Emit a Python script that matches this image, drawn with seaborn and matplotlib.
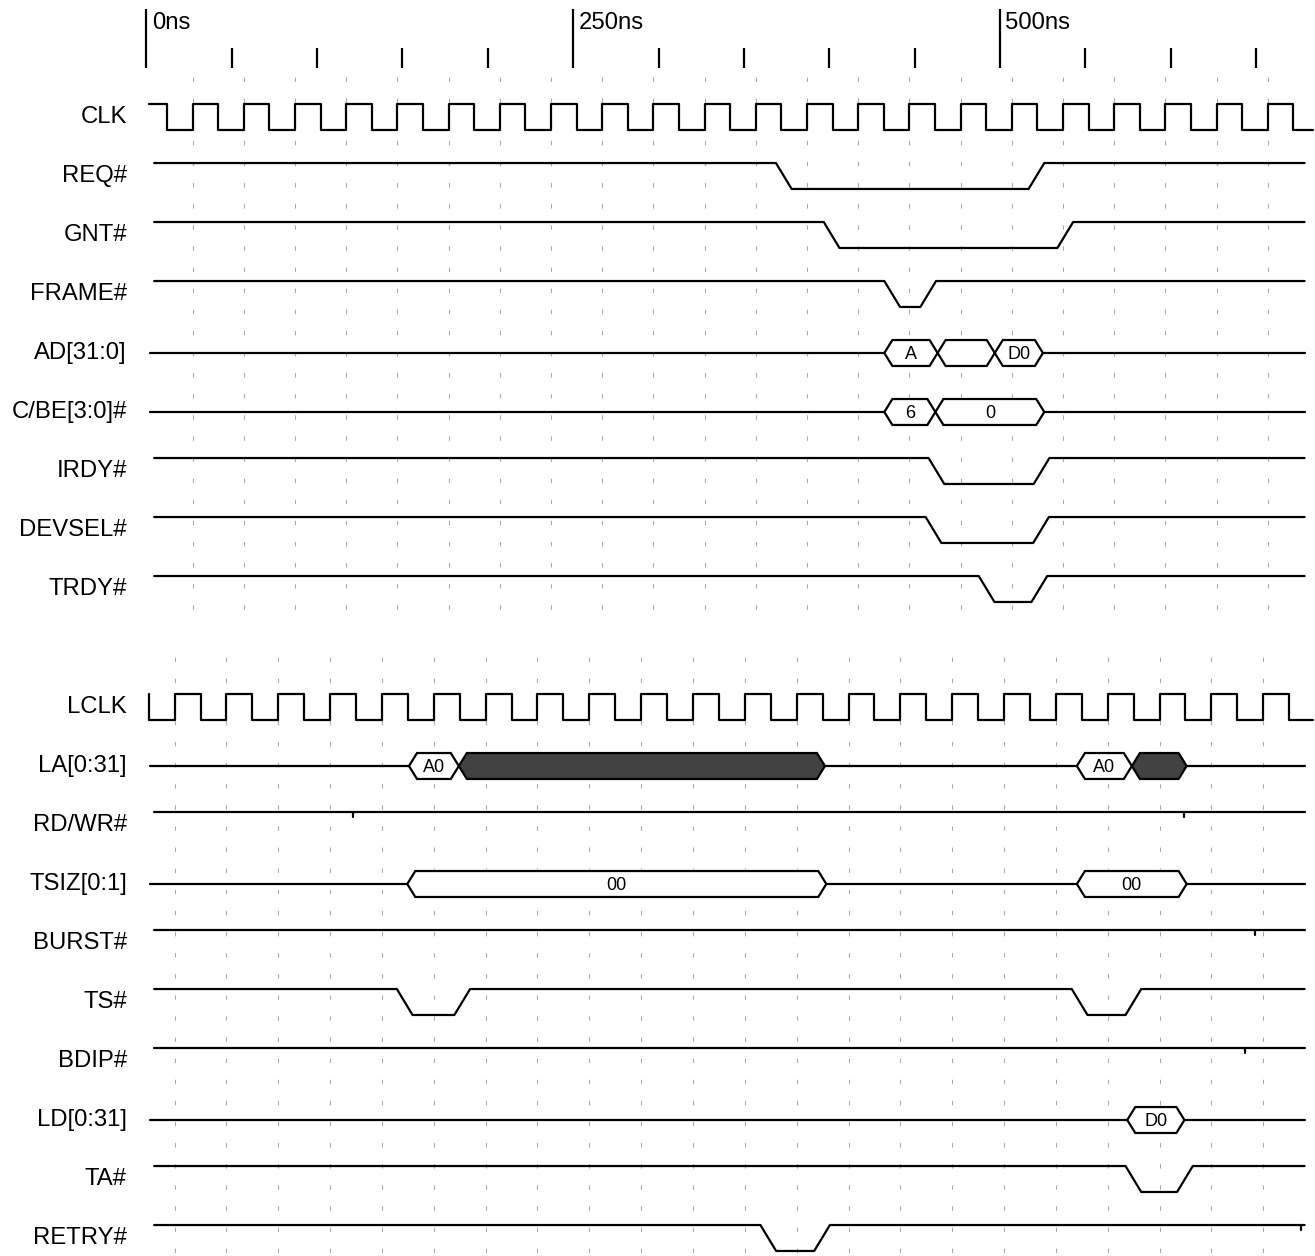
import numpy as np
import pandas as pd
import seaborn as sns
import matplotlib
matplotlib.use('Agg')
import matplotlib.pyplot as plt

# signal rows, top to bottom (row 9 is the gap between the two buses)
pci_names = ['CLK', 'REQ#', 'GNT#', 'FRAME#', 'AD[31:0]', 'C/BE[3:0]#',
             'IRDY#', 'DEVSEL#', 'TRDY#']
local_names = ['LCLK', 'LA[0:31]', 'RD/WR#', 'TSIZ[0:1]', 'BURST#', 'TS#',
               'BDIP#', 'LD[0:31]', 'TA#', 'RETRY#']

# time ruler (ns)
major_ticks = [0, 250, 500]
tick_labels = ['0ns', '250ns', '500ns']
minor_ticks = [50, 100, 150, 200, 300, 350, 400, 450, 550, 600, 650]

# clocks: first falling edge, first rising edge, period (ns)
clk_fall0, clk_rise0, clk_period = 12.0, 27.0, 30.0
lclk_fall0, lclk_rise0, lclk_period = 31.7, 16.5, 30.37

# active-low strobes: (falling edge, rising edge) in ns
req_low = [(368.8, 516.8)]
gnt_low = [(396.8, 533.7)]
frame_low = [(432.3, 453.4)]
irdy_low = [(458.2, 519.8)]
devsel_low = [(456.5, 519.5)]
trdy_low = [(487.6, 518.5)]
ts_low = [(146.7, 180.4), (542.1, 573.6)]
ta_low = [(573.6, 603.8)]
retry_low = [(359.7, 391.2)]

# zero-width marks on idle lines (ns)
rdwr_marks = [120.8, 608.1]
burst_marks = [649.2]
bdip_marks = [643.4]
retry_marks = [676.2]

# bus phases: (start, end, value); None = busy
ad_bus = [(432.3, 463.5, 'A'), (463.5, 497.0, ''), (497.0, 525.2, 'D0')]
cbe_bus = [(432.3, 462.2, '6'), (462.2, 526.0, '0')]
la_bus = [(153.8, 183.0, 'A0'), (183.0, 397.5, None),
          (545.1, 577.3, 'A0'), (577.3, 609.4, None)]
tsiz_bus = [(152.8, 398.3, '00'), (545.1, 609.4, '00')]
ld_bus = [(574.6, 608.1, 'D0')]

strobes = {'REQ#': req_low, 'GNT#': gnt_low, 'FRAME#': frame_low,
           'IRDY#': irdy_low, 'DEVSEL#': devsel_low, 'TRDY#': trdy_low,
           'RD/WR#': [], 'BURST#': [], 'TS#': ts_low, 'BDIP#': [],
           'TA#': ta_low, 'RETRY#': retry_low}
marks = {'RD/WR#': rdwr_marks, 'BURST#': burst_marks,
         'BDIP#': bdip_marks, 'RETRY#': retry_marks}
buses = {'AD[31:0]': ad_bus, 'C/BE[3:0]#': cbe_bus, 'LA[0:31]': la_bus,
         'TSIZ[0:1]': tsiz_bus, 'LD[0:31]': ld_bus}

rows = {n: i for i, n in enumerate(pci_names)}
rows.update({n: i + 10 for i, n in enumerate(local_names)})

T_START, BUS_START, T_END, CLK_END = 4.5, 2.0, 678.5, 683.5
EDGE = 9.2    # strobe slew
HALF = 4.7    # half width of a bus crossing
AMP = 0.22    # half swing in rows

pieces = []
n_pieces = 0


def add_piece(ts, ys):
    global n_pieces
    for t, y in zip(ts, ys):
        pieces.append((n_pieces, t, y))
    n_pieces += 1


def clock(name, start, falls, rises):
    c = rows[name]
    hi, lo = c - AMP, c + AMP
    edges = sorted([(f, 'f') for f in falls] + [(r, 'r') for r in rises])
    ts, ys = [start], [hi]
    for t, kind in edges:
        ts += [t, t]
        ys += [hi, lo] if kind == 'f' else [lo, hi]
    ts.append(CLK_END); ys.append(ys[-1])
    add_piece(ts, ys)


clk_falls = np.arange(clk_fall0, CLK_END, clk_period)
clk_rises = np.arange(clk_rise0, CLK_END, clk_period)
clock('CLK', 1.5, clk_falls, clk_rises)
lclk_falls = np.concatenate([[1.2], np.arange(lclk_fall0, CLK_END, lclk_period)])
lclk_rises = np.arange(lclk_rise0, CLK_END, lclk_period)
clock('LCLK', 1.2, lclk_falls, lclk_rises)

for name, lows in strobes.items():
    c = rows[name]
    hi, lo = c - AMP, c + AMP
    ts, ys = [T_START], [hi]
    for f, r in lows:
        ts += [f, f + EDGE, r, r + EDGE]
        ys += [hi, lo, lo, hi]
    ts.append(T_END); ys.append(hi)
    add_piece(ts, ys)
    for m in marks.get(name, []):
        add_piece([m, m], [hi, hi + 0.09])

for name, segs in buses.items():
    c = rows[name]
    t = BUS_START
    for a, b, v in segs:
        if a > t + 0.01:
            add_piece([t, a], [c, c])
        t = b
    add_piece([t, T_END], [c, c])

waves = pd.DataFrame(pieces, columns=['piece', 't', 'y'])

sns.set_style('white')
plt.rcParams['font.family'] = ['Liberation Sans', 'DejaVu Sans']
plt.rcParams['text.color'] = 'black'

fig = plt.figure(figsize=(13.15, 12.56), dpi=100)
ax = fig.add_axes([0, 0, 1, 1])

# faint dashed grid on clock rising edges
dash = (0, (4, 15))
ax.vlines(clk_rises[clk_rises < 665], -0.68, 8.39, colors='#aaaaaa',
          linestyles=[dash], linewidth=0.8, zorder=0)
ax.vlines(lclk_rises[lclk_rises < 665], 9.15, 19.31, colors='#aaaaaa',
          linestyles=[dash], linewidth=0.8, zorder=0)

sns.lineplot(data=waves, x='t', y='y', units='piece', estimator=None,
             sort=False, color='black', linewidth=1.6, ax=ax, zorder=3)

for name, segs in buses.items():
    c = rows[name]
    for a, b, v in segs:
        xs = [a, a + HALF, b - HALF, b, b - HALF, a + HALF, a]
        ys = [c, c - AMP, c - AMP, c, c + AMP, c + AMP, c]
        ax.fill(xs, ys, facecolor='#424242' if v is None else 'white',
                edgecolor='black', linewidth=1.6, zorder=4)
        if v:
            ax.text((a + b) / 2, c + 0.03, v, ha='center', va='center',
                    fontsize=13, color='black', zorder=5)

# signal names
for name, r in rows.items():
    ax.text(-11.4, r, name, ha='right', va='center', fontsize=17.2,
            color='black')

# time ruler
ax.vlines(major_ticks, -1.83, -0.83, colors='black', linewidth=1.6)
ax.vlines(minor_ticks, -1.17, -0.83, colors='black', linewidth=1.6)
for t, lab in zip(major_ticks, tick_labels):
    ax.text(t + 3.2, -1.6, lab, ha='left', va='center', fontsize=17.2,
            color='black')

ax.set_xlim(-85.8, 684.6)
ax.set_ylim(19.305, -1.983)
ax.axis('off')

fig.savefig('out.png', dpi=100, facecolor='white')
